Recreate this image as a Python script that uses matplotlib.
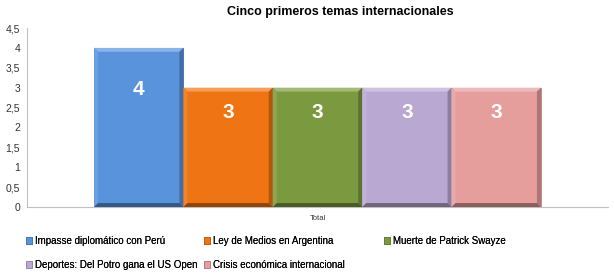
import matplotlib
matplotlib.use("Agg")
import matplotlib.pyplot as plt
from matplotlib.patches import Polygon
import matplotlib.colors as mcolors

plt.rcParams['font.family'] = ['Liberation Sans', 'DejaVu Sans']

title = "Cinco primeros temas internacionales"
category = ["Total"]
series = ["Impasse diplomático con Perú", "Ley de Medios en Argentina",
          "Muerte de Patrick Swayze", "Deportes: Del Potro gana el US Open",
          "Crisis económica internacional"]
values = [4, 3, 3, 3, 3]
colors = ["#5893DC", "#EE7414", "#7B9A40", "#B9A8D2", "#E59E9C"]
yticks = [0, 0.5, 1, 1.5, 2, 2.5, 3, 3.5, 4, 4.5]
ytick_labels = ["0", "0,5", "1", "1,5", "2", "2,5", "3", "3,5", "4", "4,5"]
label_offsets = [-42, -25, -25, -25, -25]  # px below top (style)

fig = plt.figure(figsize=(6.14, 2.78), dpi=100)
ax = fig.add_axes([27/614, 1-207/278, 581/614, 179/278])

n = len(series)
w = 1.0 / (n + 1.5)
bars = []
for i, (s, v, c) in enumerate(zip(series, values, colors)):
    x = 0.5 + (i - (n - 1) / 2) * w
    b = ax.bar(x, v, width=w, color=c, label=s, edgecolor=mcolors.to_hex([0.8*k for k in mcolors.to_rgb(c)]),
               linewidth=0.6, zorder=2)[0]
    bars.append(b)
    # bevel
    x0, x1 = b.get_x(), b.get_x() + b.get_width()
    y0, y1 = 0, v
    dx = w * 0.045
    dy = 4.5 * 0.022
    rgb = mcolors.to_rgb(c)
    light = [min(1, k + (1 - k) * 0.3) for k in rgb]
    dark = [k * 0.6 for k in rgb]
    mid_dark = [k * 0.75 for k in rgb]
    ax.add_patch(Polygon([(x0, y1), (x1, y1), (x1 - dx, y1 - dy), (x0 + dx, y1 - dy)],
                         closed=True, facecolor=light, edgecolor='none', zorder=3))
    ax.add_patch(Polygon([(x0, y0), (x0, y1), (x0 + dx, y1 - dy), (x0 + dx, y0 + dy)],
                         closed=True, facecolor=[min(1, k + (1 - k) * 0.12) for k in rgb], edgecolor='none', zorder=3))
    ax.add_patch(Polygon([(x1, y0), (x1, y1), (x1 - dx, y1 - dy), (x1 - dx, y0 + dy)],
                         closed=True, facecolor=mid_dark, edgecolor='none', zorder=3))
    ax.add_patch(Polygon([(x0, y0), (x1, y0), (x1 - dx, y0 + dy), (x0 + dx, y0 + dy)],
                         closed=True, facecolor=dark, edgecolor='none', zorder=3))
    ax.annotate(str(v), xy=(x, v), xytext=(0, label_offsets[i] * 0.72), textcoords='offset points',
                ha='center', va='center', color='white', fontsize=15, fontweight='bold', zorder=4)

ax.set_xlim(0, 1)
ax.set_ylim(0, 4.5)
ax.set_yticks(yticks)
ax.set_yticklabels(ytick_labels)
ax.set_xticks([0.5])
ax.set_xticklabels(category, fontsize=5.5)
ax.tick_params(axis='both', length=0, colors='#333333')
ax.tick_params(axis='y', labelsize=7.5, pad=5)
ax.tick_params(axis='x', pad=6)
for side in ['top', 'right']:
    ax.spines[side].set_visible(False)
for side in ['left', 'bottom']:
    ax.spines[side].set_color('#C0C0C0')
    ax.spines[side].set_linewidth(0.8)

fig.text(340/614, 1 - 12/278, title, ha='center', va='center', fontsize=9, fontweight='bold')

columns = [[0, 3], [1, 4], [2]]
col_x = [26, 204, 384]
for cols, cx in zip(columns, col_x):
    leg = fig.legend([bars[k] for k in cols], [series[k] for k in cols], ncol=1,
                     loc='upper left', bbox_to_anchor=(cx/614, 1 - 236/278), frameon=False,
                     fontsize=7.0, handlelength=0.65, handleheight=0.65, handletextpad=0.3,
                     labelspacing=1.45, borderaxespad=0, borderpad=0)
    fig.add_artist(leg)

fig.savefig("out.png", dpi=100)
